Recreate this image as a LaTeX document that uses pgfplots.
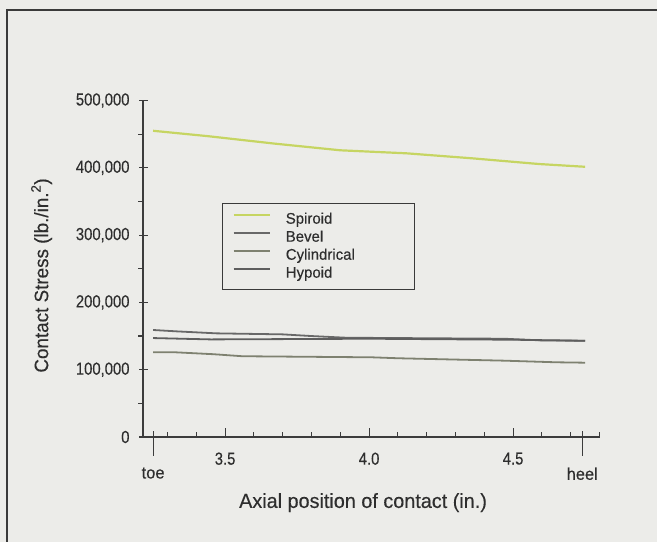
\documentclass[border=0pt]{standalone}
\usepackage{pgfplots}
\pgfplotsset{compat=1.18}
\usepackage{fontspec}
\setmainfont[FakeStretch=0.85, FakeBold=0.3]{Liberation Sans}
\newfontfamily\wide[FakeStretch=0.97, FakeBold=0.3]{Liberation Sans}
\definecolor{bg}{HTML}{ECECE9}
\definecolor{frm}{HTML}{3A3A3A}
\definecolor{axc}{HTML}{3C3C3C}
\definecolor{txt}{HTML}{2E2E2E}
\definecolor{spiroid}{HTML}{C6D562}
\definecolor{bevel}{HTML}{686868}
\definecolor{cylin}{HTML}{7E8170}
\definecolor{hypoid}{HTML}{5E5E5E}
\begin{document}
\begin{tikzpicture}[x=1bp,y=1bp]
\useasboundingbox (0,0) rectangle (657,542);
\fill[bg] (0,0) rectangle (657,542);
\draw[line width=1.3bp, frm] (7,532) -- (170,532);
\draw[line width=2.5bp, frm] (170,532) -- (657,532);
\draw[line width=2bp, frm] (7,533) -- (7,0);
\begin{axis}[
  at={(143bp,105bp)}, anchor=south west, scale only axis,
  width=456.5bp, height=336.5bp,
  xmin=3.215, xmax=4.8, ymin=0, ymax=500000,
  axis x line=bottom, axis y line=left,
  axis line style={-, line width=1.2bp, color=axc},
  every tick/.style={axc, line width=1.1bp},
  tick align=inside,
  major tick length=9bp, minor tick length=4.5bp,
  xtick={3.5,4.0,4.5}, xticklabels={3.5,4.0,4.5},
  minor xtick={3.3,3.4,3.6,3.7,3.8,3.9,4.1,4.2,4.3,4.4,4.6,4.7,4.8},
  extra x ticks={3.25,4.74}, extra x tick labels={toe,heel},
  extra x tick style={major tick length=25bp, tick style={yshift=-19bp},
    xticklabel style={yshift=-15bp, font=\wide\fontsize{17}{19}\selectfont}},
  ytick={0,100000,200000,300000,400000,500000},
  yticklabels={0,{100,000},{200,000},{300,000},{400,000},{500,000}},
  minor ytick={50000,150000,250000,350000,450000},
  major y tick style={xshift=-4bp},
  minor y tick style={xshift=-5bp},
  scaled y ticks=false,
  tick label style={font=\fontsize{17.5}{19}\selectfont, text=txt},
  xticklabel style={yshift=-12bp},
  yticklabel style={xshift=-10bp},
  xlabel={Axial position of contact (in.)},
  ylabel={Contact Stress (lb./in.\textsuperscript{2})},
  every axis x label/.style={at={(axis description cs:0.482,-0.195)}, anchor=center,
    font=\wide\fontsize{20.5}{22}\selectfont, text=txt},
  every axis y label/.style={at={(axis description cs:-0.222,0.48)}, rotate=90, anchor=center,
    font=\wide\fontsize{19.5}{21}\selectfont, text=txt},
  legend style={at={(0.173,0.695)}, anchor=north west, draw=frm, line width=1.2bp,
    fill=none, font=\wide\fontsize{15.5}{17}\selectfont, text=txt,
    inner xsep=10bp, inner ysep=7bp, column sep=14bp, row sep=0.5bp,
    nodes={inner sep=1bp, text height=12bp, text depth=3.5bp}},
  legend cell align=left,
  legend image code/.code={\draw[#1] (0bp,4.5bp) -- (36bp,4.5bp);},
]
\addplot[spiroid, line width=2.2bp] coordinates {
 (3.25,455000) (3.44,447000) (3.67,436000) (3.90,426000) (4.13,421500)
 (4.36,414000) (4.59,405600) (4.75,401500)};
\addlegendentry{Spiroid}
\addplot[bevel, line width=1.8bp] coordinates {
 (3.25,159000) (3.33,157000) (3.47,154000) (3.70,152500) (3.80,150000)
 (3.92,147500) (4.47,146000) (4.60,143500) (4.75,143000)};
\addlegendentry{Bevel}
\addplot[cylin, line width=1.8bp] coordinates {
 (3.25,126000) (3.32,126000) (3.46,123000) (3.56,120000) (4.01,118400)
 (4.10,117000) (4.47,113400) (4.65,111000) (4.75,110400)};
\addlegendentry{Cylindrical}
\addplot[hypoid, line width=1.8bp] coordinates {
 (3.25,147000) (3.45,145000) (4.0,146000) (4.5,144500) (4.75,143000)};
\addlegendentry{\makebox[118bp][l]{Hypoid}}
\end{axis}
\end{tikzpicture}
\end{document}
